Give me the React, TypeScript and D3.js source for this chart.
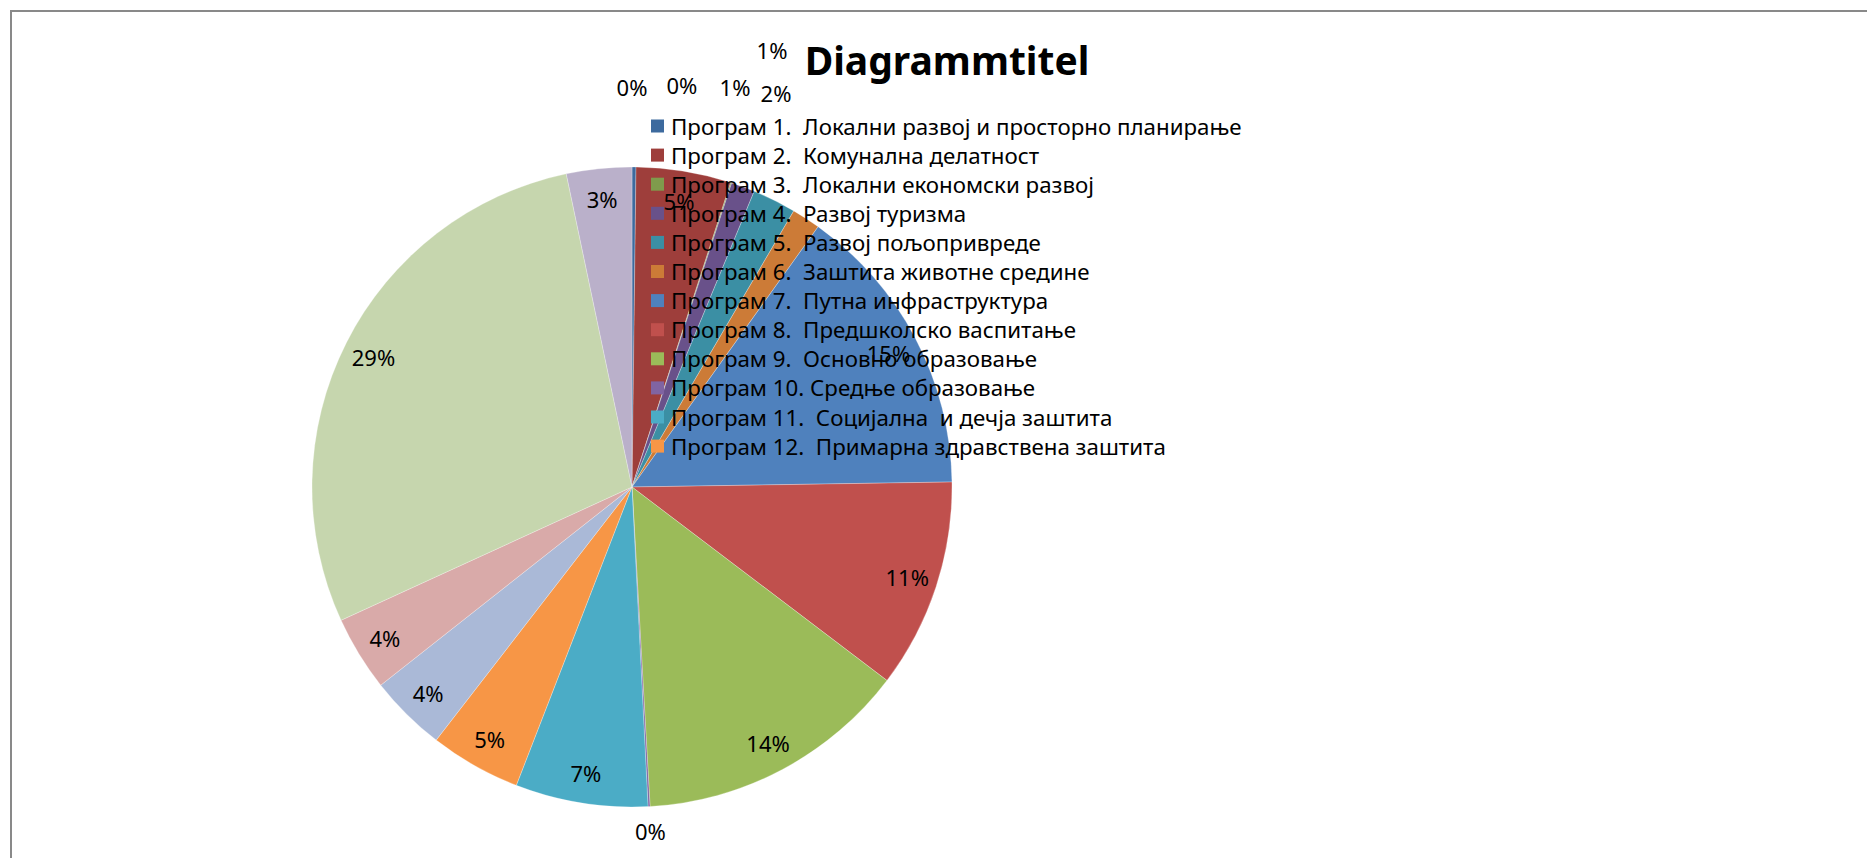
import { useRef, useEffect } from 'react'
import * as d3 from 'd3'

const WIDTH = 1867
const HEIGHT = 858

const TITLE = 'Diagrammtitel'

// Legend names — the source legend is clipped after the 12th entry
const PROGRAMS = [
  'Програм 1.  Локални развој и просторно планирање',
  'Програм 2.  Комунална делатност',
  'Програм 3.  Локални економски развој',
  'Програм 4.  Развој туризма',
  'Програм 5.  Развој пољопривреде',
  'Програм 6.  Заштита животне средине',
  'Програм 7.  Путна инфраструктура',
  'Програм 8.  Предшколско васпитање',
  'Програм 9.  Основно образовање',
  'Програм 10. Средње образовање',
  'Програм 11.  Социјална  и дечја заштита',
  'Програм 12.  Примарна здравствена заштита',
]

// Slice shares (%), clockwise from 12 o'clock
const SHARES = [0.2, 4.8, 0.05, 1.2, 2.2, 1.45, 14.9, 10.6, 13.8, 0.1, 6.7, 4.6, 3.9, 3.8, 28.6, 3.3]

// Excel 2007 palette: dark shades, base accents, light tints
const COLORS = [
  '#3d6a9e', '#9e3e3b', '#7f9b4c', '#69518a', '#3b8fa4', '#cc7b37',
  '#4f81bd', '#c0504d', '#9bbb59', '#8064a2', '#4bacc6', '#f79646',
  '#aab9d7', '#d9aaa9', '#c6d6ae', '#bab0ca',
]

const CX = 632
const CY = 487
const R = 320
const FONT = '"Noto Sans", "Open Sans", sans-serif'

// slices thinner than this get their label outside the pie
const INSIDE_MIN = 3
// crowded outside labels, moved by hand like Excel did (offset from centre, in radii)
const LABEL_SPOTS: Record<number, [number, number]> = {
  0: [0.0, -1.25],
  2: [0.156, -1.256],
  3: [0.322, -1.25],
  4: [0.45, -1.231],
  5: [0.4375, -1.366],
}

export default function App() {
  const svgRef = useRef<SVGSVGElement>(null)

  useEffect(() => {
    const svg = d3.select(svgRef.current)
    svg.selectAll('*').remove()

    svg.append('rect').attr('width', WIDTH).attr('height', HEIGHT).attr('fill', '#fff')

    // chart frame (runs off the right and bottom of the page)
    svg.append('path')
      .attr('d', `M11,${HEIGHT + 10}V11H${WIDTH + 10}`)
      .attr('fill', 'none')
      .attr('stroke', '#898989')
      .attr('stroke-width', 2)

    const total = d3.sum(SHARES)
    const pie = d3.pie<number>().sort(null).value(d => d)
    const arcs = pie(SHARES)

    const arc = d3.arc<d3.PieArcDatum<number>>().innerRadius(0).outerRadius(R)
    const inLabel = d3.arc<d3.PieArcDatum<number>>().innerRadius(R * 0.905).outerRadius(R * 0.905)
    const outLabel = d3.arc<d3.PieArcDatum<number>>().innerRadius(R + 24).outerRadius(R + 24)

    const g = svg.append('g').attr('transform', `translate(${CX},${CY})`)

    g.selectAll('path.slice')
      .data(arcs)
      .join('path')
      .attr('class', 'slice')
      .attr('d', arc)
      .attr('fill', (_, i) => COLORS[i])
      .attr('stroke', 'rgba(255,255,255,0.45)')
      .attr('stroke-width', 0.6)

    // data labels
    g.selectAll('text.lbl')
      .data(arcs)
      .join('text')
      .attr('class', 'lbl')
      .attr('transform', (d, i) => {
        let p: [number, number]
        if (LABEL_SPOTS[i]) p = [LABEL_SPOTS[i][0] * R, LABEL_SPOTS[i][1] * R]
        else if (d.value / total * 100 >= INSIDE_MIN) p = inLabel.centroid(d)
        else p = outLabel.centroid(d)
        return `translate(${p[0]},${p[1]})`
      })
      .attr('text-anchor', 'middle')
      .attr('dominant-baseline', 'central')
      .attr('font-family', FONT)
      .attr('font-size', 22)
      .attr('fill', '#000')
      .text(d => `${Math.round(d.value / total * 100)}%`)

    // title
    svg.append('text')
      .attr('x', 947)
      .attr('y', 75)
      .attr('text-anchor', 'middle')
      .attr('font-family', FONT)
      .attr('font-weight', 700)
      .attr('font-size', 39)
      .attr('fill', '#000')
      .text(TITLE)

    // legend
    const rowY = d3.scalePoint<number>()
      .domain(d3.range(PROGRAMS.length))
      .range([126, 126 + 29.1 * (PROGRAMS.length - 1)])

    const legend = svg.append('g')
    const rows = legend.selectAll('g')
      .data(PROGRAMS)
      .join('g')
      .attr('transform', (_, i) => `translate(651,${rowY(i)})`)

    rows.append('rect')
      .attr('x', 0).attr('y', -6.5)
      .attr('width', 13).attr('height', 13)
      .attr('fill', (_, i) => COLORS[i])

    rows.append('text')
      .attr('x', 20)
      .attr('y', 0)
      .attr('dominant-baseline', 'central')
      .attr('font-family', FONT)
      .attr('font-size', 22.3)
      .attr('fill', '#000')
      .style('white-space', 'pre')
      .text(d => d)
  }, [])

  return (
    <div style={{ position: 'fixed', left: 0, top: 0 }}>
      <svg ref={svgRef} width={WIDTH} height={HEIGHT} style={{ display: 'block' }} />
    </div>
  )
}
